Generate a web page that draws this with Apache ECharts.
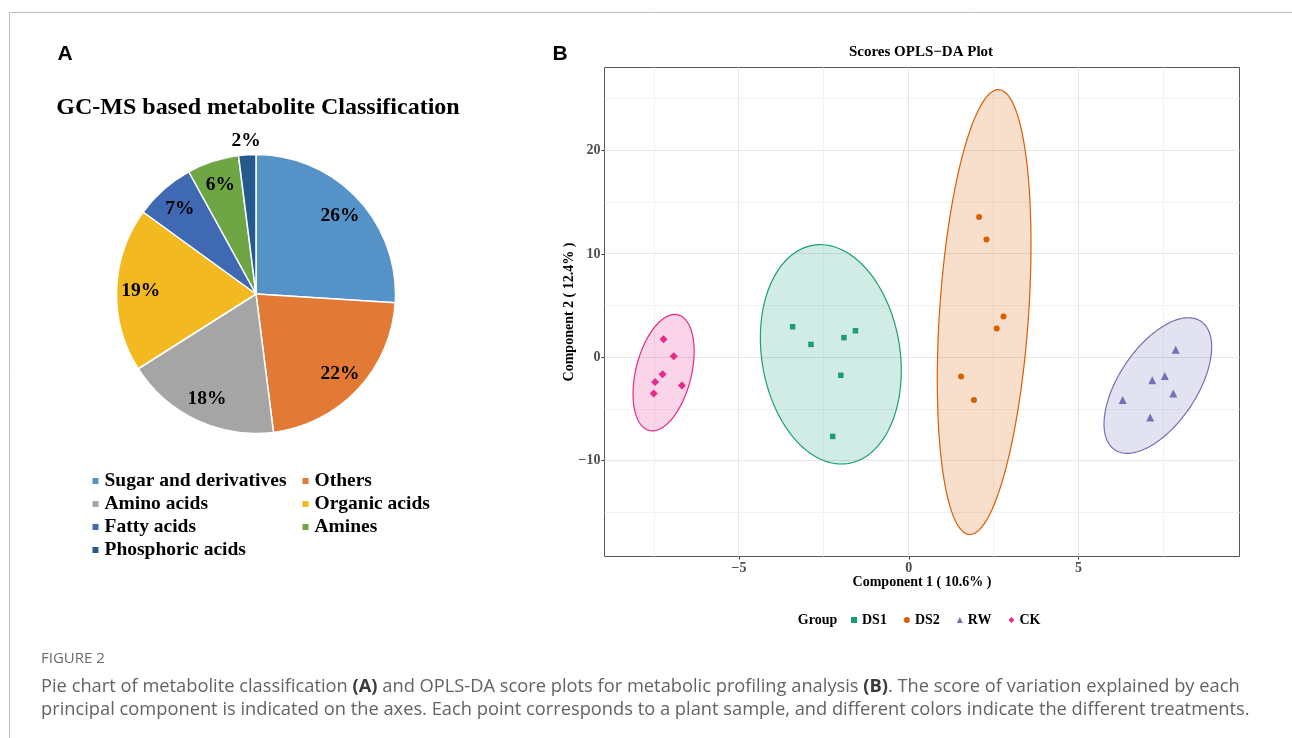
<!DOCTYPE html>
<html>
<head>
<meta charset="utf-8">
<title>Figure 2</title>
<script src="https://cdn.jsdelivr.net/npm/echarts@6/dist/echarts.min.js"></script>
<style>
  html, body { margin: 0; padding: 0; background: #fff; }
  #main { width: 1292px; height: 738px; }
</style>
</head>
<body>
<div id="main"></div>
<script>
// ---------- Panel A: GC-MS metabolite classes ----------
const classNames = ['Sugar and derivatives', 'Others', 'Amino acids', 'Organic acids',
                    'Fatty acids', 'Amines', 'Phosphoric acids'];
const classShares = [26, 22, 18, 19, 7, 6, 2];
const classColors = ['#5592C8', '#E27934', '#A5A5A5', '#F2B920', '#4069B4', '#6EA646', '#245B8C'];

// ---------- Panel B: OPLS-DA scores ----------
const groups = ['DS1', 'DS2', 'RW', 'CK'];
const groupColors = ['#1B9E77', '#D95F02', '#7570B3', '#E7298A'];
const groupSymbols = ['rect', 'circle', 'triangle', 'diamond'];
const groupSymbolSizes = [5.5, 6, 8, 8];

const ds1Comp1 = [-3.42, -2.88, -1.91, -1.57, -2.00, -2.24];
const ds1Comp2 = [2.96, 1.25, 1.90, 2.57, -1.74, -7.65];
const ds2Comp1 = [2.07, 2.29, 2.79, 2.59, 1.54, 1.92];
const ds2Comp2 = [13.58, 11.39, 3.95, 2.80, -1.86, -4.12];
const rwComp1 = [7.86, 7.17, 7.54, 7.79, 6.30, 7.11];
const rwComp2 = [0.74, -2.22, -1.80, -3.50, -4.12, -5.82];
const ckComp1 = [-7.22, -6.92, -7.25, -7.47, -6.68, -7.51];
const ckComp2 = [1.74, 0.10, -1.64, -2.38, -2.73, -3.50];

// 95% confidence ellipses per group (data units): centre, half extents, x shift of the top point
const ellipseCx = [-2.295, 2.22, 7.335, -7.22];
const ellipseCy = [0.29, 4.38, -2.73, -1.48];
const ellipseHalfW = [2.075, 1.38, 1.585, 0.90];
const ellipseHalfH = [10.61, 21.52, 6.56, 5.63];
const ellipseTopShift = [-0.31, 0.42, 0.90, 0.33];

// axes
const comp1Range = [-8.96, 9.74];
const comp2Range = [-19.27, 28.04];
const comp1Ticks = [-5, 0, 5];
const comp2Ticks = [-10, 0, 10, 20];
const comp1Minor = [-7.5, -2.5, 2.5, 7.5];
const comp2Minor = [-15, -5, 5, 15, 25];

// ---------- helpers ----------
const SERIF = "'Liberation Serif', 'Times New Roman', serif";
const SANS = "'Liberation Sans', Arial, sans-serif";
const CAPTION = "'Open Sans', 'Noto Sans', sans-serif";
const minusSign = v => String(v).replace('-', '\u2212');
function withAlpha(hex, a) {
  const n = parseInt(hex.slice(1), 16);
  return 'rgba(' + ((n >> 16) & 255) + ',' + ((n >> 8) & 255) + ',' + (n & 255) + ',' + a + ')';
}
const crisp = v => Math.round(v - 0.5) + 0.5;

const groupScores = [[ds1Comp1, ds1Comp2], [ds2Comp1, ds2Comp2], [rwComp1, rwComp2], [ckComp1, ckComp2]];

const pieCenter = [256, 294];
const pieRadius = 139.5;
const pieLabelFont = { fontFamily: SERIF, fontWeight: 'bold', fontSize: 19.5, color: '#000' };

const chart = echarts.init(document.getElementById('main'), null, { renderer: 'canvas', width: 1292, height: 738 });

const axisLabelStyle = { fontFamily: SERIF, fontWeight: 'bold', fontSize: 14, color: '#4d4d4d' };
const axisNameStyle = { fontFamily: SERIF, fontWeight: 'bold', fontSize: 14, color: '#000' };

const series = [];

// pie slices
series.push({
  type: 'pie', name: 'classes', center: pieCenter, radius: pieRadius, startAngle: 90, clockwise: true,
  silent: true, label: { show: false }, labelLine: { show: false }, emphasis: { disabled: true },
  itemStyle: { borderColor: '#fff', borderWidth: 1.5 },
  data: classNames.map((n, i) => ({ name: n, value: classShares[i], itemStyle: { color: classColors[i] } }))
});
// percentage labels inside the large slices
series.push({
  type: 'pie', name: 'class labels', center: pieCenter, radius: [85, pieRadius], startAngle: 90,
  silent: true, legendHoverLink: false, emphasis: { disabled: true }, labelLine: { show: false },
  itemStyle: { color: 'rgba(0,0,0,0)', borderWidth: 0 },
  label: Object.assign({ position: 'inside', formatter: '{c}%', offset: [0, 1] }, pieLabelFont),
  data: classNames.map((n, i) => ({ name: n, value: classShares[i], label: { show: classShares[i] >= 3 } }))
});
// percentage labels just outside the thin slices
series.push({
  type: 'pie', name: 'class labels outer', center: pieCenter, radius: [146, 162], startAngle: 90,
  silent: true, legendHoverLink: false, emphasis: { disabled: true }, labelLine: { show: false },
  itemStyle: { color: 'rgba(0,0,0,0)', borderWidth: 0 },
  label: Object.assign({ position: 'inside', formatter: '{c}%', offset: [0, 4] }, pieLabelFont),
  data: classNames.map((n, i) => ({ name: n, value: classShares[i], label: { show: classShares[i] < 3 } }))
});

// panel grid lines
series.push({
  type: 'custom', name: 'panel grid', silent: true, z: 1, clip: false,
  data: [[0, 0]], encode: { x: 0, y: 1 },
  renderItem: (params, api) => {
    const children = [];
    const vLine = (v, color) => {
      const a = api.coord([v, comp2Range[0]]), b = api.coord([v, comp2Range[1]]);
      const x = crisp(a[0]);
      children.push({ type: 'line', shape: { x1: x, y1: a[1], x2: x, y2: b[1] }, style: { stroke: color, lineWidth: 1 } });
    };
    const hLine = (v, color) => {
      const a = api.coord([comp1Range[0], v]), b = api.coord([comp1Range[1], v]);
      const y = crisp(a[1]);
      children.push({ type: 'line', shape: { x1: a[0], y1: y, x2: b[0], y2: y }, style: { stroke: color, lineWidth: 1 } });
    };
    comp1Minor.forEach(v => vLine(v, '#f2f2f2'));
    comp2Minor.forEach(v => hLine(v, '#f2f2f2'));
    comp1Ticks.forEach(v => vLine(v, '#e6e6e6'));
    comp2Ticks.forEach(v => hLine(v, '#e6e6e6'));
    return { type: 'group', children };
  }
});

// confidence ellipses
series.push({
  type: 'custom', name: 'confidence ellipses', silent: true, z: 2,
  data: groups.map((g, i) => [ellipseCx[i], ellipseCy[i], i]), encode: { x: 0, y: 1 },
  renderItem: (params, api) => {
    const i = api.value(2);
    const W = ellipseHalfW[i], H = ellipseHalfH[i];
    const c = ellipseTopShift[i] * H;
    const l21 = c / W, l22 = Math.sqrt(H * H - l21 * l21);
    const points = [];
    for (let k = 0; k < 180; k++) {
      const t = k / 180 * 2 * Math.PI;
      points.push(api.coord([ellipseCx[i] + W * Math.cos(t), ellipseCy[i] + l21 * Math.cos(t) + l22 * Math.sin(t)]));
    }
    return { type: 'polygon', shape: { points }, style: { fill: withAlpha(groupColors[i], 0.2), stroke: groupColors[i], lineWidth: 1.2 } };
  }
});

// score points
groups.forEach((g, i) => {
  series.push({
    type: 'scatter', name: g, z: 3, symbol: groupSymbols[i], symbolSize: groupSymbolSizes[i],
    itemStyle: { color: groupColors[i], opacity: 1 }, emphasis: { disabled: true },
    data: groupScores[i][0].map((x, k) => [x, groupScores[i][1][k]])
  });
});

const option = {
  animation: false,
  backgroundColor: '#fff',
  grid: {
    left: 604.5, top: 67.5, width: 635, height: 489,
    show: true, borderColor: '#555', borderWidth: 1, backgroundColor: '#fff', containLabel: false
  },
  xAxis: {
    type: 'value', min: comp1Range[0], max: comp1Range[1],
    name: 'Component 1 ( 10.6% )', nameLocation: 'middle', nameGap: 19, nameMoveOverlap: false,
    nameTextStyle: axisNameStyle,
    axisLine: { show: false, onZero: false },
    axisTick: { show: true, customValues: comp1Ticks, length: 3, lineStyle: { color: '#333' } },
    axisLabel: Object.assign({ customValues: comp1Ticks, formatter: minusSign, margin: 5 }, axisLabelStyle),
    splitLine: { show: false }
  },
  yAxis: {
    type: 'value', min: comp2Range[0], max: comp2Range[1],
    name: 'Component 2 ( 12.4% )', nameLocation: 'middle', nameGap: 28, nameMoveOverlap: false,
    nameTextStyle: axisNameStyle,
    axisLine: { show: false, onZero: false },
    axisTick: { show: true, customValues: comp2Ticks, length: 3, lineStyle: { color: '#333' } },
    axisLabel: Object.assign({ customValues: comp2Ticks, formatter: minusSign, margin: 4 }, axisLabelStyle),
    splitLine: { show: false }
  },
  legend: [
    {
      data: classNames.filter((_, i) => i % 2 === 0), orient: 'vertical', left: 90.5, top: 471, padding: 0,
      icon: 'rect', itemWidth: 8, itemHeight: 8, itemGap: 3, selectedMode: false,
      textStyle: Object.assign({ lineHeight: 20 }, pieLabelFont)
    },
    {
      data: classNames.filter((_, i) => i % 2 === 1), orient: 'vertical', left: 300.5, top: 471, padding: 0,
      icon: 'rect', itemWidth: 8, itemHeight: 8, itemGap: 3, selectedMode: false,
      textStyle: Object.assign({ lineHeight: 20 }, pieLabelFont)
    },
    {
      data: groups, orient: 'horizontal', left: 851, top: 612, padding: 0,
      itemWidth: 6, itemHeight: 6, itemGap: 17, selectedMode: false,
      textStyle: { fontFamily: SERIF, fontWeight: 'bold', fontSize: 14, color: '#000', lineHeight: 16 }
    }
  ],
  graphic: [
    { type: 'line', silent: true, shape: { x1: 9.5, y1: 12.5, x2: 1292, y2: 12.5 }, style: { stroke: '#bdbdbd', lineWidth: 1 } },
    { type: 'line', silent: true, shape: { x1: 9.5, y1: 12.5, x2: 9.5, y2: 738 }, style: { stroke: '#bdbdbd', lineWidth: 1 } },
    { type: 'text', x: 65, y: 54, style: { text: 'A', fontFamily: SANS, fontWeight: 'bold', fontSize: 21, fill: '#000', align: 'center', verticalAlign: 'middle' } },
    { type: 'text', x: 560, y: 54, style: { text: 'B', fontFamily: SANS, fontWeight: 'bold', fontSize: 21, fill: '#000', align: 'center', verticalAlign: 'middle' } },
    { type: 'text', x: 258, y: 108, style: { text: 'GC-MS based metabolite Classification', fontFamily: SERIF, fontWeight: 'bold', fontSize: 24, fill: '#000', align: 'center', verticalAlign: 'middle' } },
    { type: 'text', x: 921, y: 52, style: { text: 'Scores OPLS\u2212DA Plot', fontFamily: SERIF, fontWeight: 'bold', fontSize: 15, fill: '#000', align: 'center', verticalAlign: 'middle' } },
    { type: 'text', x: 817.5, y: 620, style: { text: 'Group', fontFamily: SERIF, fontWeight: 'bold', fontSize: 14, fill: '#000', align: 'center', verticalAlign: 'middle' } },
    { type: 'text', x: 41, y: 659, style: { text: 'FIGURE 2', fontFamily: CAPTION, fontSize: 15, fill: '#6b6b6b', align: 'left', verticalAlign: 'middle' } },
    {
      type: 'text', x: 41, y: 686.5,
      style: {
        text: 'Pie chart of metabolite classification {b|(A)} and OPLS-DA score plots for metabolic profiling analysis {b|(B)}. The score of variation explained by each',
        fontFamily: CAPTION, fontSize: 18.3, fill: '#636363', align: 'left', verticalAlign: 'middle',
        rich: { b: { fontFamily: CAPTION, fontSize: 18.3, fontWeight: 'bold', fill: '#3a3a3a' } }
      }
    },
    {
      type: 'text', x: 41, y: 709.5,
      style: {
        text: 'principal component is indicated on the axes. Each point corresponds to a plant sample, and different colors indicate the different treatments.',
        fontFamily: CAPTION, fontSize: 18.3, fill: '#636363', align: 'left', verticalAlign: 'middle'
      }
    }
  ],
  series
};

chart.setOption(option);
</script>
</body>
</html>
